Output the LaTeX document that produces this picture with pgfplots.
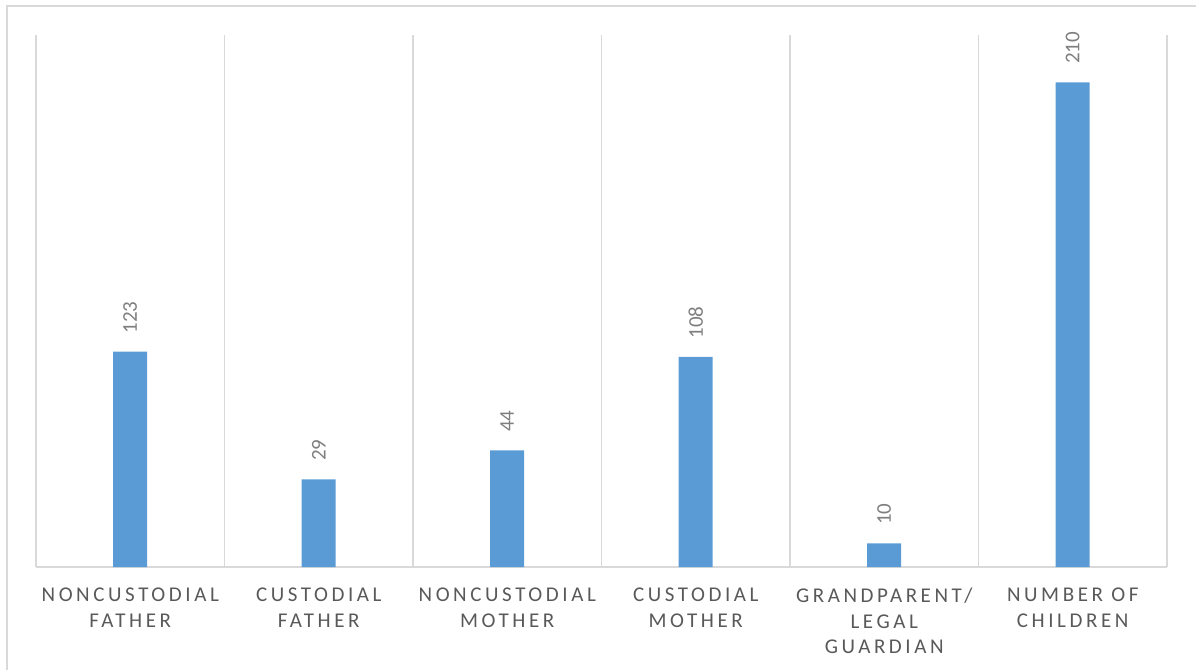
\documentclass[border=0pt]{standalone}
\usepackage{fontspec}
\setmainfont{Carlito}
\newfontfamily\catfont[LetterSpace=17]{Carlito}
\usepackage{pgfplots}
\pgfplotsset{compat=1.18}
\definecolor{barblue}{HTML}{5B9BD5}
\definecolor{gridgray}{HTML}{D9D9D9}
\definecolor{txtgray}{HTML}{595959}
\definecolor{lblgray}{HTML}{7F7F7F}
\begin{document}
\begin{tikzpicture}[x=1pt,y=1pt]
\useasboundingbox (0,0) rectangle (598,335);
\draw[gridgray, line width=1pt] (3.5,0) -- (3.5,332) -- (598,332);
\begin{axis}[
  at={(18pt,51.5pt)}, anchor=south west,
  scale only axis, width=565.5pt, height=266pt,
  xmin=-0.5, xmax=5.5, ymin=0, ymax=532,
  axis x line*=bottom, axis y line=none,
  x axis line style={gridgray, line width=0.75pt, -},
  xtick={0,...,5},
  xticklabels={{NONCUSTODIAL\\FATHER},{CUSTODIAL\\FATHER},{NONCUSTODIAL\\MOTHER},{CUSTODIAL\\MOTHER},{GRANDPARENT/\\LEGAL\\GUARDIAN},{NUMBER OF\\CHILDREN}},
  major tick length=0pt, minor tick length=0pt,
  minor xtick={-0.5,0.5,...,5.5},
  xminorgrids=true,
  minor grid style={gridgray, line width=0.75pt},
  ytick=\empty,
  xticklabel style={font=\catfont\fontsize{10.5}{12.9}\selectfont, align=center, text=txtgray, inner sep=0pt, yshift=-10.2pt},
  ybar, bar width=17pt, bar shift=0pt,
  clip=false,
  nodes near coords,
  point meta=explicit symbolic,
  nodes near coords style={yshift=9pt, rotate=90, anchor=west, inner sep=0pt, font=\fontsize{10.5}{12}\selectfont, text=lblgray},
]
\addplot[fill=barblue, draw=none] table[x=x, y=y, meta=lab] {
x y lab
0 215.3 123
1 87.7 29
2 116.7 44
3 210.0 108
4 23.7 10
5 484.7 210
};
\end{axis}
\end{tikzpicture}
\end{document}
